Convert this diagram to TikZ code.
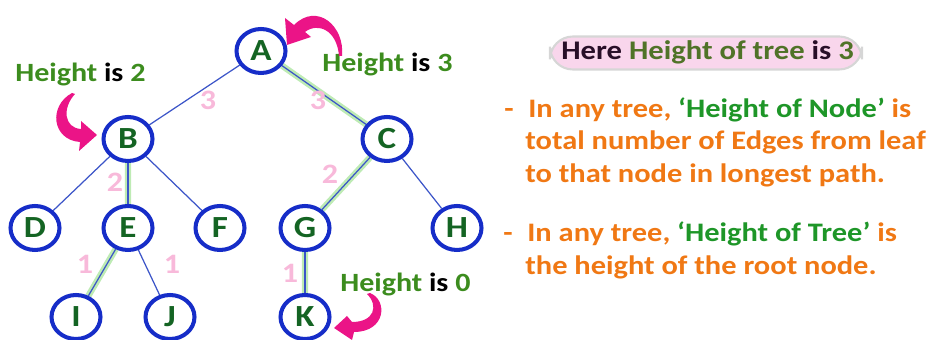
\documentclass[tikz,border=0pt]{standalone}
\usepackage{fontspec}
\setmainfont{Carlito}[FakeStretch=1.14]
\usetikzlibrary{shapes.geometric,backgrounds}

\definecolor{nodeblue}{RGB}{22,45,200}
\definecolor{edgeblue}{RGB}{60,85,200}
\definecolor{pathgreen}{RGB}{190,235,180}
\definecolor{lettergreen}{RGB}{20,100,35}
\definecolor{hgreen}{RGB}{60,140,30}
\definecolor{wpink}{RGB}{248,185,218}
\definecolor{arrowpink}{RGB}{235,20,135}
\definecolor{noteorange}{RGB}{240,120,20}
\definecolor{quotegreen}{RGB}{30,150,40}
\definecolor{boxpink}{RGB}{249,214,236}
\definecolor{boxgreen}{RGB}{80,115,40}
\definecolor{boxdark}{RGB}{40,15,40}

\begin{document}
\begin{tikzpicture}[
  x=0.02cm,y=-0.02cm,
  tnode/.style={ellipse,draw=nodeblue,line width=2.3pt,fill=white,minimum width=0.98cm,
    minimum height=0.88cm,inner sep=0pt,text=lettergreen,font=\fontsize{17.5}{20}\selectfont\bfseries},
  edge/.style={draw=edgeblue,line width=0.7pt},
  hpath/.style={draw=pathgreen,line width=3.6pt},
  wt/.style={text=wpink,inner sep=0pt,font=\fontsize{16}{18}\selectfont\bfseries},
  hlabel/.style={anchor=base west,inner sep=0pt,text=hgreen,font=\fontsize{15}{18}\selectfont\bfseries},
  curl/.style={fill=arrowpink},
  note/.style={anchor=base west,inner sep=0pt,text=noteorange,font=\fontsize{15.2}{18}\selectfont\bfseries}
]
\useasboundingbox (0,0) rectangle (930,340);

% tree
\node[tnode] (A) at (261,51) {A};
\node[tnode] (B) at (128,139) {B};
\node[tnode] (C) at (387,139) {C};
\node[tnode] (D) at (35,228) {D};
\node[tnode] (E) at (128,228) {E};
\node[tnode] (F) at (220,228) {F};
\node[tnode] (G) at (305,228) {G};
\node[tnode] (H) at (457,228) {H};
\node[tnode] (I) at (76,317) {I};
\node[tnode] (J) at (170,317) {J};
\node[tnode] (K) at (305,317) {K};

\begin{scope}[on background layer]
  \draw[hpath] (A) -- (C) -- (G) -- (K);
  \draw[hpath] (B) -- (E) -- (I);
  \draw[edge] (A) -- (B);
  \draw[edge] (A) -- (C);
  \draw[edge] (B) -- (D);
  \draw[edge] (B) -- (E);
  \draw[edge] (B) -- (F);
  \draw[edge] (C) -- (G);
  \draw[edge] (C) -- (H);
  \draw[edge] (E) -- (I);
  \draw[edge] (E) -- (J);
  \draw[edge] (G) -- (K);
\end{scope}

% edge counts
\node[wt] (wAB) at (208,100) {3};
\node[wt] (wAC) at (318,100) {3};
\node[wt] (wBE) at (115,182) {2};
\node[wt] (wCG) at (330,174) {2};
\node[wt] (wEI) at (85,264) {1};
\node[wt] (wEJ) at (172,264) {1};
\node[wt] (wGK) at (290,273) {1};

% heights
\node[hlabel] (h2) at (15,82) {Height \textcolor{black}{is} 2};
\node[hlabel] (h3) at (322,72) {Height \textcolor{black}{is} 3};
\node[hlabel] (h0) at (340,292) {Height \textcolor{black}{is} 0};

\fill[curl] (342,56) .. controls (345,26) and (317,2) .. (294,25) -- (285,18) -- (287,45)
  -- (311,37) -- (305,32) .. controls (318,22) and (337,30) .. (339,56) -- cycle;
\fill[curl] (72,93) .. controls (48,106) and (52,140) .. (80,142) -- (79,151) -- (97,135)
  -- (81,121) -- (81,129) .. controls (64,128) and (62,108) .. (75,94) -- cycle;
\fill[curl] (370,293) .. controls (388,300) and (386,332) .. (354,332) -- (352,340) -- (334,328)
  -- (347,316) -- (352,322) .. controls (374,322) and (379,306) .. (367,294) -- cycle;

% summary
\node[draw=black!16,line width=1.2pt,fill=boxpink,rounded corners=13pt,minimum width=6.24cm,
  minimum height=0.66cm] (box) at (706,53) {};
\node[anchor=base west,inner sep=0pt,text=boxdark,font=\fontsize{15.3}{18}\selectfont\bfseries]
  (boxtext) at (561,60) {Here \textcolor{boxgreen}{Height of tree} is \textcolor{boxgreen}{3}};

\node[note] (dash1) at (504,118) {-};
\node[note] (n1a) at (528,118) {In any tree, \textcolor{quotegreen}{‘Height of Node’} is};
\node[note] (n1b) at (525,150) {total number of Edges from leaf};
\node[note] (n1c) at (525,183) {to that node in longest path.};

\node[note] (dash2) at (503,242) {-};
\node[note] (n2a) at (527,242) {In any tree, \textcolor{quotegreen}{‘Height of Tree’} is};
\node[note] (n2b) at (525,275) {the height of the root node.};
\end{tikzpicture}
\end{document}
